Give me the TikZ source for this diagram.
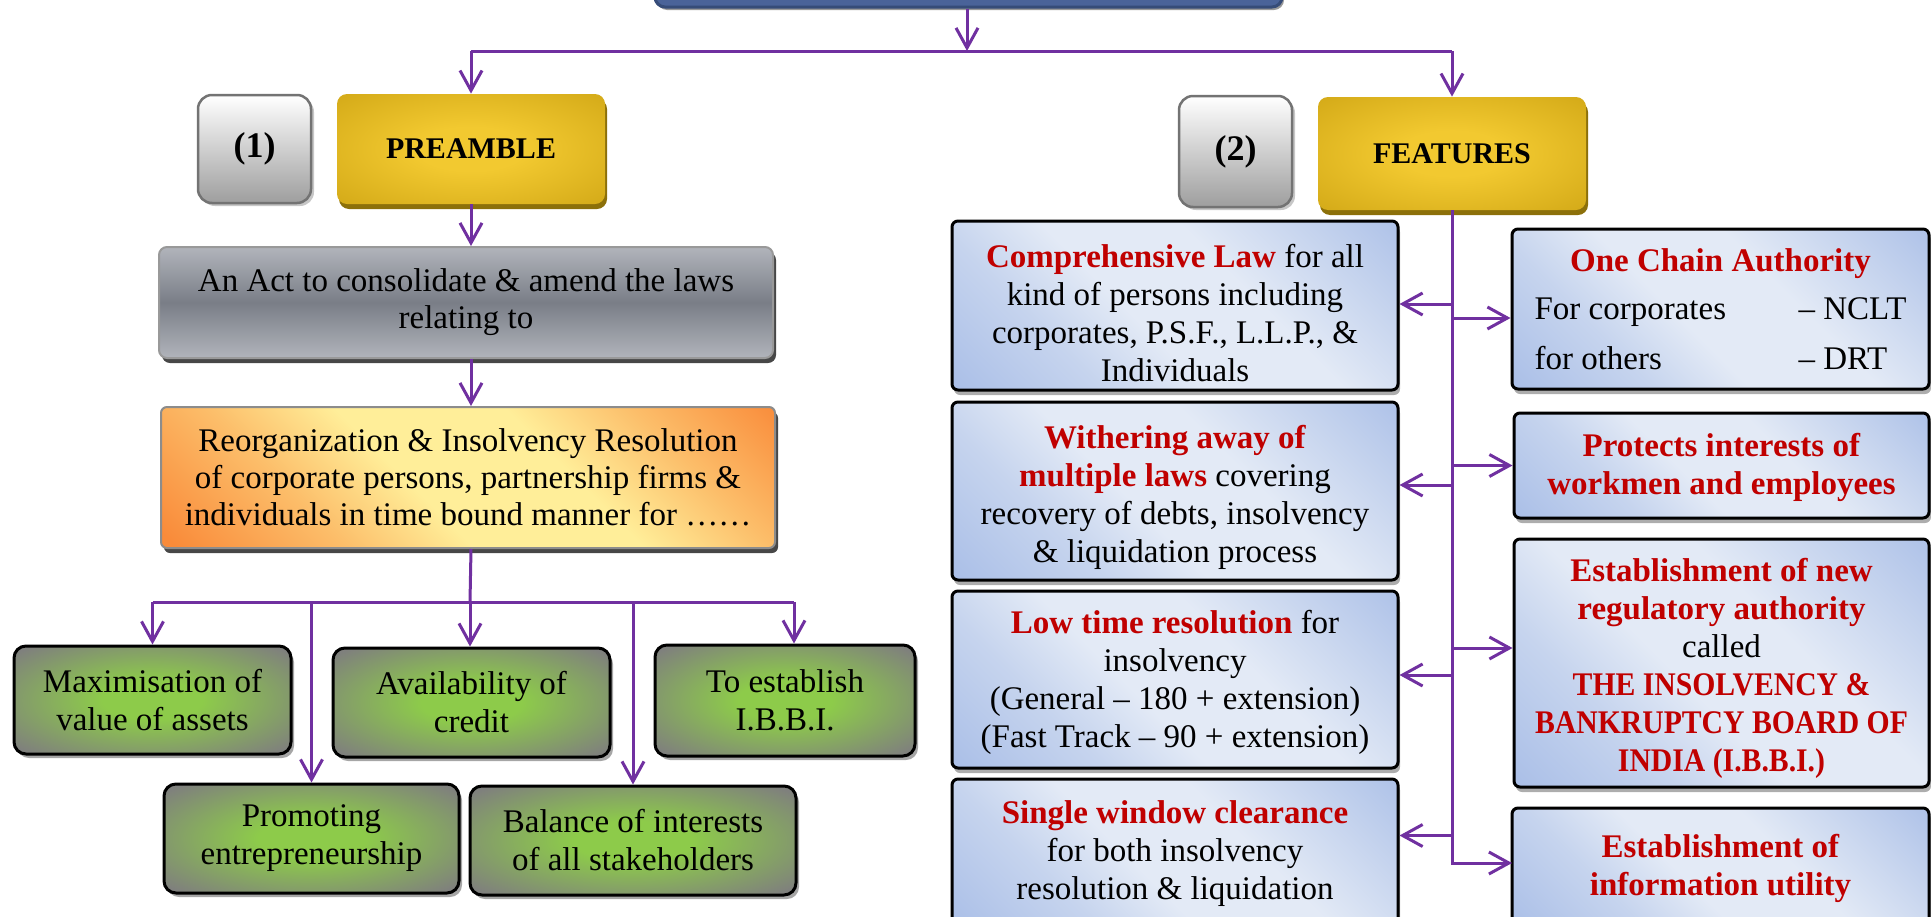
\documentclass[tikz,border=0pt]{standalone}
\usepackage{fontspec}
\usepackage{graphicx}
\setmainfont{Liberation Serif}
\usetikzlibrary{arrows.meta,shadows}

% palette
\definecolor{flow}{HTML}{7030A0}
\definecolor{hl}{HTML}{C00000}
\definecolor{greenmid}{HTML}{8DCB4A}
\definecolor{greenedge}{HTML}{7F807D}
\definecolor{goldmid}{HTML}{F2C930}
\definecolor{goldedge}{HTML}{CCA212}
\definecolor{golddark}{HTML}{8C700A}
\definecolor{bluedeep}{HTML}{A9BEE7}
\definecolor{bluesoft}{HTML}{C6D4EE}
\definecolor{bluepale}{HTML}{E3EAF6}
\definecolor{orangedeep}{HTML}{F98B3A}
\definecolor{orangesoft}{HTML}{FCBE6A}
\definecolor{yellowpale}{HTML}{FFEE99}
\definecolor{slateA}{HTML}{B1B4BB}
\definecolor{slateB}{HTML}{7A7E87}
\definecolor{navyfill}{HTML}{4A6399}
\definecolor{navyline}{HTML}{364C78}

% box fills
\pgfdeclareradialshading{greenglow}{\pgfpoint{0bp}{0bp}}{color(0bp)=(greenmid); color(9bp)=(greenmid); color(33bp)=(greenedge); color(50bp)=(greenedge)}
\pgfdeclareradialshading{goldglow}{\pgfpoint{0bp}{0bp}}{color(0bp)=(goldmid); color(10bp)=(goldmid); color(42bp)=(goldedge); color(50bp)=(goldedge)}
\pgfdeclarehorizontalshading{bluesweep}{100bp}{color(0bp)=(bluedeep); color(14bp)=(bluedeep); color(32bp)=(bluesoft); color(44bp)=(bluepale); color(60bp)=(bluepale); color(74bp)=(bluesoft); color(88bp)=(bluedeep); color(100bp)=(bluedeep)}
\pgfdeclarehorizontalshading{orangesweep}{100bp}{color(0bp)=(orangedeep); color(16bp)=(orangedeep); color(32bp)=(orangesoft); color(44bp)=(yellowpale); color(60bp)=(yellowpale); color(72bp)=(orangesoft); color(86bp)=(orangedeep); color(100bp)=(orangedeep)}

\newcommand\bodyfont{\fontsize{16.5pt}{19pt}\selectfont}
\newcommand\headfont{\fontsize{15pt}{18pt}\selectfont\bfseries}
\newcommand\tagfont{\fontsize{18pt}{20pt}\selectfont\bfseries}
\newcommand\hi[1]{\textcolor{hl}{\textbf{#1}}}
\newcommand\squeeze[1]{\scalebox{0.9}[1]{#1}}
% extra room above the first line of a text block
\newcommand\lift[1]{\rule{0pt}{\dimexpr 11.5pt+#1\relax}}

\tikzset{
  rect/.style args={#1/#2/#3/#4}{at={({(#1+#3)/2},{(#2+#4)/2})},
    minimum width={(#3-#1)*0.5pt}, minimum height={(#4-#2)*0.5pt}},
  basebox/.style={rectangle, align=center, inner sep=0pt, font=\bodyfont, text=black},
  navybox/.style={basebox, fill=navyfill, draw=navyline, line width=1.5pt, rounded corners=5pt,
    drop shadow={shadow xshift=1pt, shadow yshift=-1.5pt, fill=black!40, opacity=1}},
  labelbox/.style={basebox, font=\tagfont, top color=white, bottom color=black!38,
    draw=black!55, line width=1.25pt, rounded corners=7pt,
    drop shadow={shadow xshift=1.5pt, shadow yshift=-1.5pt, fill=black!22, opacity=1}},
  goldbox/.style={basebox, font=\headfont, shade, shading=goldglow, rounded corners=5pt,
    drop shadow={shadow xshift=1pt, shadow yshift=-2.5pt, fill=golddark, opacity=1}},
  slatebox/.style={basebox, top color=slateA, bottom color=slateA, middle color=slateB,
    draw=black!40, line width=1pt, rounded corners=4pt,
    drop shadow={shadow xshift=1.5pt, shadow yshift=-2.5pt, fill=black!72, opacity=1}},
  orangebox/.style={basebox, shade, shading=orangesweep, shading angle=45,
    draw=black!45, line width=1pt, rounded corners=3pt,
    drop shadow={shadow xshift=1.5pt, shadow yshift=-2.5pt, fill=black!72, opacity=1}},
  greenbox/.style={basebox, shade, shading=greenglow, draw=black, line width=1.5pt,
    rounded corners=6pt,
    drop shadow={shadow xshift=1.5pt, shadow yshift=-2pt, fill=black!35, opacity=1}},
  bluebox/.style={basebox, shade, shading=bluesweep, shading angle=45, draw=black,
    line width=1.5pt, rounded corners=3pt,
    drop shadow={shadow xshift=1pt, shadow yshift=-2.5pt, fill=black!32, opacity=1}},
  flowline/.style={draw=flow, line width=1.5pt},
  flowarrow/.style={flowline, -{Straight Barb[length=10pt, width=11pt]}},
}

\begin{document}
\begin{tikzpicture}[x=0.5pt, y=-0.5pt]
\useasboundingbox (0,0) rectangle (1931,916);
\clip (0,0) rectangle (1931,916);

% title strip
\node[navybox, rect={655/-40/1282/7}] (top) {};

% part (1)
\node[labelbox, rect={198/95/311/203}] (one) {(1)};
\node[goldbox, rect={337/94/605/204}] (pre) {PREAMBLE};
\node[slatebox, rect={159/247/773/358}, font=\fontsize{16.5pt}{18.5pt}\selectfont] (act)
  {An Act to consolidate \& amend the laws\\relating to};
\node[orangebox, rect={161/407/775/548}, font=\fontsize{16.5pt}{18.5pt}\selectfont] (reorg)
  {Reorganization \& Insolvency Resolution\\of corporate persons, partnership firms \&\\individuals in time bound manner for ……};

\node[greenbox, rect={14/646/291/754}] (max) {Maximisation of\\value of assets};
\node[greenbox, rect={333/648/610/757}] (avail) {Availability of\\credit};
\node[greenbox, rect={655/645/915/756}] (ibbi) {To establish\\I.B.B.I.};
\node[greenbox, rect={164/784/459/893}] (prom) {Promoting\\entrepreneurship};
\node[greenbox, rect={470/786/796/895}] (bal) {Balance of interests\\of all stakeholders};

% part (2)
\node[labelbox, rect={1179/96/1292/207}] (two) {(2)};
\node[goldbox, rect={1318/97/1586/210}] (feat) {FEATURES};

\node[bluebox, rect={952/221/1398/390}] (comp)
  {\lift{8pt}\hi{Comprehensive Law} for all\\kind of persons including\\corporates, P.S.F., L.L.P., \&\\Individuals};
\node[bluebox, rect={952/402/1398/580}] (wither)
  {\lift{7pt}\hi{Withering away of}\\\hi{multiple laws} covering\\recovery of debts, insolvency\\\& liquidation process};
\node[bluebox, rect={952/591/1398/768}] (low)
  {\lift{3pt}\hi{Low time resolution} for\\insolvency\\(General – 180 + extension)\\(Fast Track – 90 + extension)};
\node[bluebox, rect={952/779/1398/928}] (single)
  {\hi{Single window clearance}\\for both insolvency\\resolution \& liquidation};

\node[bluebox, rect={1512/229/1929/389}] (chain)
  {\lift{6pt}\hi{One Chain Authority}\\[6pt]
   \begin{tabular}{@{}p{132pt}@{}l@{}}For corporates & – NCLT\\[6pt] for others & – DRT\end{tabular}};
\node[bluebox, rect={1514/413/1929/518}] (protect)
  {\lift{2pt}\hi{Protects interests of}\\\hi{workmen and employees}};
\node[bluebox, rect={1514/539/1929/787}] (board)
  {\lift{5pt}\hi{Establishment of new}\\\hi{regulatory authority}\\called\\\hi{\squeeze{THE INSOLVENCY \&}}\\\hi{\squeeze{BANKRUPTCY BOARD OF}}\\\hi{\squeeze{INDIA (I.B.B.I.)}}};
\node[bluebox, rect={1512/808/1929/928}] (info)
  {\hi{Establishment of}\\\hi{information utility}};

% top split
\coordinate (split) at (967,51);
\draw[flowarrow] (top.south -| split) -- (split);
\draw[flowline] (pre.north |- split) -- (feat.north |- split);
\draw[flowarrow] (pre.north |- split) -- (pre.north);
\draw[flowarrow] (feat.north |- split) -- (feat.north);

% preamble chain
\draw[flowarrow] (pre.south) -- (pre.south |- act.north);
\draw[flowarrow] (pre.south |- act.south) -- (pre.south |- reorg.north);
\coordinate (bus) at (470,602);
\coordinate (busR) at (794,602);
\draw[flowline] (pre.south |- reorg.south) -- (bus);
\draw[flowline] (max.north |- bus) -- (busR);
\draw[flowarrow] (max.north |- bus) -- (max.north);
\draw[flowarrow] (prom.north |- bus) -- (prom.north);
\draw[flowarrow] (bus) -- (avail.north -| bus);
\draw[flowarrow] (bal.north |- bus) -- (bal.north);
\draw[flowarrow] (busR) -- (busR |- ibbi.north);

% features trunk
\coordinate (infoIn) at (1512,863);
\draw[flowarrow] (feat.south) |- (infoIn);
\path ([yshift=0.75pt]comp.east) coordinate (cE)
      ([yshift=3pt]wither.east) coordinate (wE)
      ([yshift=2.25pt]low.east) coordinate (lE)
      ([yshift=9pt]single.east) coordinate (sE)
      ([yshift=-4.5pt]chain.west) coordinate (chW)
      (protect.west) coordinate (pW)
      ([yshift=7.5pt]board.west) coordinate (bW);
\draw[flowarrow] (cE -| feat.south) -- (cE);
\draw[flowarrow] (wE -| feat.south) -- (wE);
\draw[flowarrow] (lE -| feat.south) -- (lE);
\draw[flowarrow] (sE -| feat.south) -- (sE);
\draw[flowarrow] (chW -| feat.south) -- (chW);
\draw[flowarrow] (pW -| feat.south) -- (pW);
\draw[flowarrow] (bW -| feat.south) -- (bW);
\end{tikzpicture}
\end{document}
